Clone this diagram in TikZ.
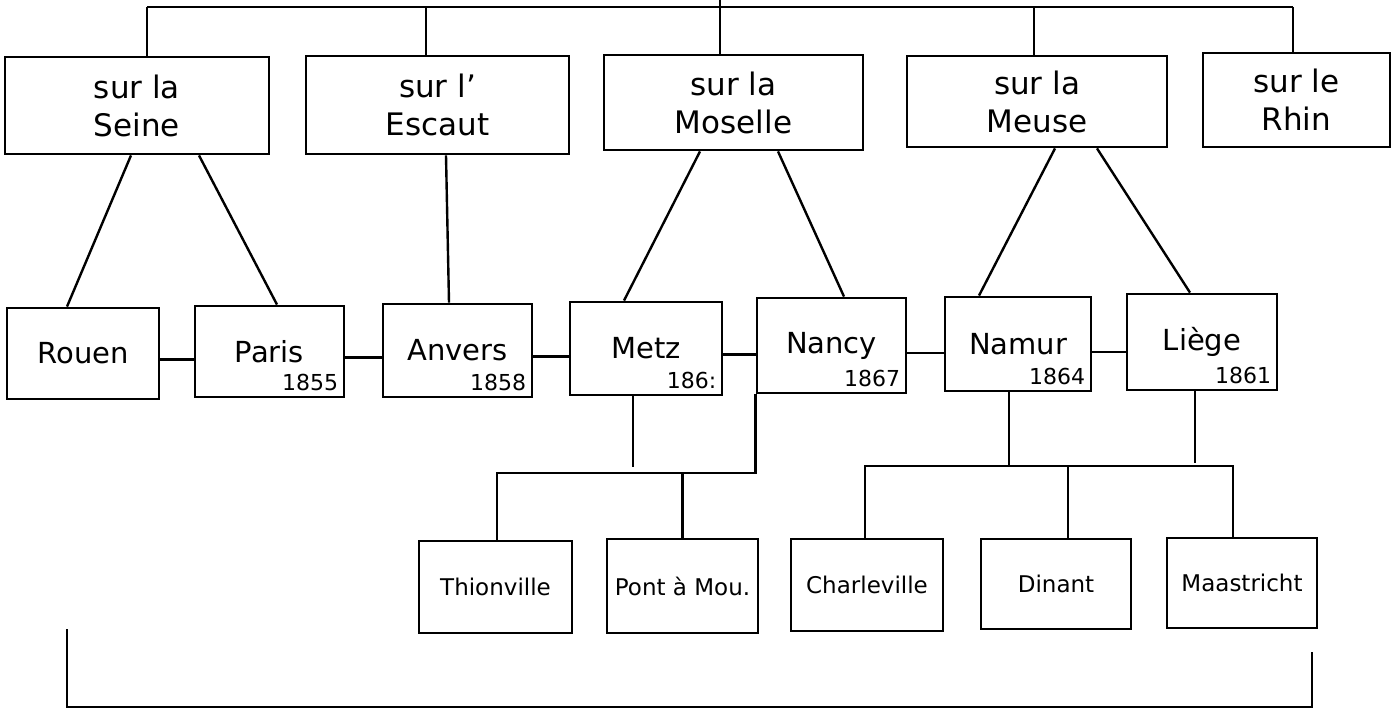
\documentclass[tikz,border=0pt]{standalone}
\usepackage{fontspec}
\setmainfont{DejaVu Sans}
\usetikzlibrary{calc}
\begin{document}
\begin{tikzpicture}[x=1pt,y=-1pt,
  box/.style={draw,line width=2.8pt,inner sep=0pt,align=center},
  topbox/.style={box,font=\fontsize{31}{38}\selectfont},
  citybox/.style={box,font=\fontsize{29}{32}\selectfont},
  smallbox/.style={box,font=\fontsize{23}{26}\selectfont},
  yr/.style={anchor=south east,inner sep=0pt,font=\fontsize{22}{24}\selectfont},
  link/.style={line width=2.4pt}]
\useasboundingbox (0,0) rectangle (1400,709);

% top row
\node[topbox,minimum width=264pt,minimum height=97pt] (seine)   at (137,105.5)  {sur la\\Seine};
\node[topbox,minimum width=263pt,minimum height=98pt] (escaut)  at (437.5,105)  {sur l'\\Escaut};
\node[topbox,minimum width=259pt,minimum height=95pt] (moselle) at (733.5,102.5){sur la\\Moselle};
\node[topbox,minimum width=260pt,minimum height=91pt] (meuse)   at (1037,101.5) {sur la\\Meuse};
\node[topbox,minimum width=187pt,minimum height=94pt] (rhin)    at (1296.5,100) {sur le\\Rhin};

% middle row
\node[citybox,minimum width=152pt,minimum height=91pt] (rouen)  at (83,353.5)   {Rouen};
\node[citybox,minimum width=149pt,minimum height=91pt] (paris)  at (269.5,351.5){Paris};
\node[citybox,minimum width=149pt,minimum height=93pt] (anvers) at (457.5,350.5){Anvers};
\node[citybox,minimum width=152pt,minimum height=93pt] (metz)   at (646,348.5)  {Metz};
\node[citybox,minimum width=149pt,minimum height=95pt] (nancy)  at (831.5,345.5){Nancy};
\node[citybox,minimum width=146pt,minimum height=94pt] (namur)  at (1018,344)   {Namur};
\node[citybox,minimum width=150pt,minimum height=96pt] (liege)  at (1202,342)   {Liège};

% years
\node[yr] (parisyr)  at ([xshift=-7pt,yshift=7pt]paris.south east)  {1855};
\node[yr] (anversyr) at ([xshift=-7pt,yshift=7pt]anvers.south east) {1858};
\node[yr] (metzyr)   at ([xshift=-7pt,yshift=7pt]metz.south east)   {186:};
\node[yr] (nancyyr)  at ([xshift=-7pt,yshift=7pt]nancy.south east)  {1867};
\node[yr] (namuryr)  at ([xshift=-7pt,yshift=7pt]namur.south east)  {1864};
\node[yr] (liegeyr)  at ([xshift=-7pt,yshift=7pt]liege.south east)  {1861};

% bottom row
\node[smallbox,minimum width=153pt,minimum height=92pt] (thionville)  at (495.5,587) {Thionville};
\node[smallbox,minimum width=151pt,minimum height=94pt] (pont)        at (682.5,586) {Pont à Mou.};
\node[smallbox,minimum width=152pt,minimum height=92pt] (charleville) at (867,585)   {Charleville};
\node[smallbox,minimum width=150pt,minimum height=90pt] (dinant)      at (1056,584)  {Dinant};
\node[smallbox,minimum width=150pt,minimum height=90pt] (maastricht)  at (1242,583)  {Maastricht};

% top tree
\coordinate (tl) at (147,7);
\coordinate (tr) at (1293,7);
\coordinate (tt) at (720,0);
\coordinate (te) at (426,7);
\coordinate (tm) at (1034,7);
\draw[link] (tl) -- (tr);
\draw[link] (tl) -- (tl |- seine.north);
\draw[link] (te) -- (te |- escaut.north);
\draw[link] (tt) -- (tt |- moselle.north);
\draw[link] (tm) -- (tm |- meuse.north);
\draw[link] (tr) -- (tr |- rhin.north);

% rivers to cities
\draw[link] ([xshift=-6pt]seine.south)    -- ([xshift=-16pt]rouen.north);
\draw[link] ([xshift=62pt]seine.south)    -- ([xshift=7.5pt]paris.north);
\draw[link] ([xshift=8.5pt]escaut.south)  -- ([xshift=-8.5pt]anvers.north);
\draw[link] ([xshift=-33.5pt]moselle.south) -- ([xshift=-22pt]metz.north);
\draw[link] ([xshift=44.5pt]moselle.south) -- ([xshift=12.5pt]nancy.north);
\draw[link] ([xshift=18pt]meuse.south)    -- ([xshift=-39pt]namur.north);
\draw[link] ([xshift=60pt]meuse.south)    -- ([xshift=-12pt]liege.north);

% chain of cities
\draw[link] ([yshift=-6pt]rouen.east)  -- ([yshift=-6pt]rouen.east -| paris.west);
\draw[link] ([yshift=-6pt]paris.east)  -- ([yshift=-6pt]paris.east -| anvers.west);
\draw[link] ([yshift=-6pt]anvers.east) -- ([yshift=-6pt]anvers.east -| metz.west);
\draw[link] ([yshift=-6pt]metz.east)   -- ([yshift=-6pt]metz.east -| nancy.west);
\draw[link] ([yshift=-7.5pt]nancy.east) -- ([yshift=-7.5pt]nancy.east -| namur.west);
\draw[link] ([yshift=-8pt]namur.east)  -- ([yshift=-8pt]namur.east -| liege.west);

% lower left tree
\coordinate (lbl) at (497,473);
\coordinate (metzend) at (633,467);
\draw[link] (nancy.south west) -- (nancy.south west |- lbl) -- (lbl) -- (lbl |- thionville.north);
\draw[link] (pont.north) -- (pont.north |- lbl);
\draw[link] (metzend |- metz.south) -- (metzend);

% lower right tree
\coordinate (rbl) at (865,466);
\coordinate (rbr) at (1233,466);
\coordinate (liegeend) at (1195,463);
\draw[link] (rbl |- charleville.north) -- (rbl) -- (rbr) -- (rbr |- maastricht.north);
\draw[link] ([xshift=-9pt]namur.south) -- ([xshift=-9pt]namur.south |- rbl);
\draw[link] ([xshift=12pt]dinant.north) -- ([xshift=12pt]dinant.north |- rbl);
\draw[link] (liegeend |- liege.south) -- (liegeend);

% bottom bracket
\coordinate (b1) at (67,629);
\coordinate (b2) at (67,707);
\coordinate (b3) at (1312,707);
\coordinate (b4) at (1312,652);
\draw[link] (b1) -- (b2) -- (b3) -- (b4);
\end{tikzpicture}
\end{document}
